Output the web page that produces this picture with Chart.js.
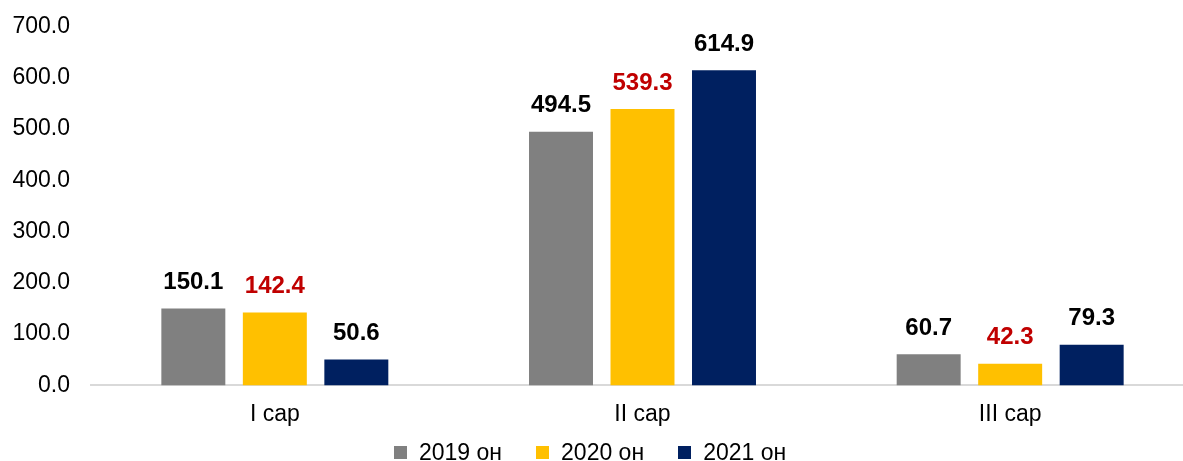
<!DOCTYPE html>
<html lang="mn">
<head>
    <meta charset="UTF-8">
    <title>Сарын харьцуулалт</title>
    <script src="https://cdn.jsdelivr.net/npm/chart.js"></script>
    <style>
        html, body {
            margin: 0;
            padding: 0;
            background: #ffffff;
            overflow: hidden;
        }

        .chart-box {
            position: relative;
            width: 1195px;
            height: 461px;
        }

        #legend {
            position: absolute;
            left: 394px;
            top: 439px;
            display: flex;
            font-family: 'Liberation Sans', Arial, sans-serif;
            font-size: 23px;
            line-height: 26px;
            color: #000;
        }

        .legend-item {
            display: flex;
            align-items: center;
            margin-right: 34px;
        }

        .legend-box {
            width: 13px;
            height: 13px;
            margin-right: 12px;
        }
    </style>
</head>
<body>
    <div class="chart-box">
        <canvas id="monthChart"></canvas>
        <div id="legend"></div>
    </div>

    <script>
        const months = ['I сар', 'II сар', 'III сар'];
        const seriesNames = ['2019 он', '2020 он', '2021 он'];
        const values2019 = [150.1, 494.5, 60.7];
        const values2020 = [142.4, 539.3, 42.3];
        const values2021 = [50.6, 614.9, 79.3];

        const barColors = ['#808080', '#FFC000', '#002060'];
        const labelColors = ['#000000', '#C00000', '#000000'];
        const FONT = "'Liberation Sans', Arial, sans-serif";

        // draw the value labels above each bar
        const valueLabels = {
            id: 'valueLabels',
            afterDatasetsDraw(chart) {
                const ctx = chart.ctx;
                ctx.save();
                ctx.font = 'bold 24px ' + FONT;
                ctx.textAlign = 'center';
                ctx.textBaseline = 'bottom';
                chart.data.datasets.forEach((ds, i) => {
                    const meta = chart.getDatasetMeta(i);
                    meta.data.forEach((bar, j) => {
                        ctx.fillStyle = labelColors[i];
                        ctx.fillText(ds.data[j].toFixed(1), bar.x, bar.y - 14);
                    });
                });
                ctx.restore();
            }
        };

        const ctx = document.getElementById('monthChart').getContext('2d');
        new Chart(ctx, {
            type: 'bar',
            data: {
                labels: months,
                datasets: [values2019, values2020, values2021].map((vals, i) => ({
                    label: seriesNames[i],
                    data: vals,
                    backgroundColor: barColors[i],
                    borderWidth: 0,
                    categoryPercentage: 0.665,
                    barPercentage: 0.785
                }))
            },
            options: {
                responsive: true,
                maintainAspectRatio: false,
                animation: false,
                layout: {
                    padding: { top: 26.5, right: 1, bottom: 18, left: 0 }
                },
                plugins: {
                    legend: { display: false },
                    tooltip: { enabled: false }
                },
                scales: {
                    x: {
                        grid: { display: false, drawTicks: false },
                        border: { color: '#D9D9D9', width: 2 },
                        ticks: {
                            color: '#000000',
                            padding: 15,
                            font: { family: FONT, size: 23 }
                        }
                    },
                    y: {
                        min: 0,
                        max: 700,
                        afterFit(scale) {
                            scale.width = 91;
                            scale.paddingTop = 0;
                            scale.paddingBottom = 0;
                        },
                        grid: { display: false, drawTicks: false },
                        border: { display: false },
                        ticks: {
                            stepSize: 100,
                            padding: 21,
                            color: '#000000',
                            font: { family: FONT, size: 23 },
                            callback: v => v.toFixed(1)
                        }
                    }
                }
            },
            plugins: [valueLabels]
        });

        // legend as plain html under the chart
        const legendEl = document.getElementById('legend');
        seriesNames.forEach((name, i) => {
            const item = document.createElement('div');
            item.className = 'legend-item';
            const box = document.createElement('span');
            box.className = 'legend-box';
            box.style.background = barColors[i];
            const txt = document.createElement('span');
            txt.textContent = name;
            item.appendChild(box);
            item.appendChild(txt);
            legendEl.appendChild(item);
        });
    </script>
</body>
</html>
